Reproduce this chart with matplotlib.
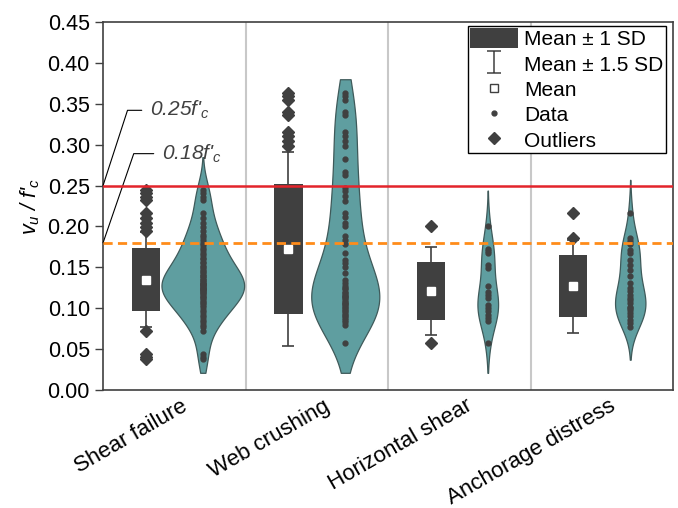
import numpy as np
import matplotlib
matplotlib.use("Agg")
import matplotlib.pyplot as plt
from matplotlib import mlab
from matplotlib.lines import Line2D
from matplotlib.patches import Patch
from matplotlib.path import Path
import matplotlib.transforms as mtransforms

plt.rcParams['font.family'] = ['Liberation Sans', 'DejaVu Sans']
plt.rcParams['mathtext.fontset'] = 'custom'
plt.rcParams['mathtext.rm'] = 'Liberation Sans'
plt.rcParams['mathtext.it'] = 'Liberation Sans:italic'

# 数据
categories = ["Shear failure", "Web crushing", "Horizontal shear", "Anchorage distress"]
means = [0.1348, 0.1725, 0.1207, 0.1266]
sds = [0.0388, 0.0793, 0.0357, 0.0379]

shear = [0.245, 0.241, 0.236, 0.232, 0.216, 0.210, 0.204, 0.199, 0.195,
         0.190, 0.187, 0.184, 0.180, 0.177, 0.174, 0.171, 0.168, 0.165, 0.162,
         0.160, 0.157, 0.155, 0.152, 0.150, 0.148, 0.146, 0.144, 0.142, 0.140,
         0.139, 0.137, 0.135, 0.134, 0.132, 0.131, 0.130, 0.129, 0.128, 0.127,
         0.126, 0.125, 0.124, 0.123, 0.122, 0.121, 0.120, 0.118, 0.117, 0.115,
         0.114, 0.112, 0.110, 0.108, 0.106, 0.104, 0.101, 0.098, 0.095, 0.092,
         0.089, 0.086, 0.083, 0.080, 0.077, 0.072, 0.044, 0.040, 0.038]
web = [0.363, 0.359, 0.355, 0.340, 0.336, 0.316, 0.310, 0.304, 0.298,
       0.283, 0.267, 0.263, 0.247, 0.243, 0.237, 0.231, 0.216, 0.212, 0.204,
       0.200, 0.188, 0.184, 0.178, 0.167, 0.159, 0.155, 0.151, 0.143, 0.135,
       0.131, 0.127, 0.125, 0.123, 0.120, 0.118, 0.116, 0.114, 0.112, 0.110,
       0.108, 0.106, 0.105, 0.104, 0.102, 0.100, 0.098, 0.096, 0.094, 0.092,
       0.090, 0.088, 0.086, 0.083, 0.080, 0.057, 0.115]
horizontal = [0.200, 0.172, 0.170, 0.168, 0.153, 0.149, 0.127, 0.120, 0.116,
              0.112, 0.104, 0.100, 0.096, 0.092, 0.088, 0.084, 0.058]
anchorage = [0.217, 0.186, 0.182, 0.178, 0.171, 0.167, 0.159, 0.153, 0.147,
             0.139, 0.131, 0.125, 0.121, 0.116, 0.113, 0.110, 0.106, 0.102,
             0.100, 0.098, 0.094, 0.090, 0.086, 0.082, 0.077]
groups = [shear, web, horizontal, anchorage]

limit_high = 0.25
limit_low = 0.18

dark = "#404040"
teal = "#5f9ea0"

fig = plt.figure(figsize=(6.78, 5.08), dpi=100)
ax = fig.add_axes([0.152, 0.2323, 0.8406, 0.7244])

n_max = max(len(g) for g in groups)
# 核密度曲线的公共范围（全部数据范围略放宽）
all_vals = np.concatenate([np.asarray(g) for g in groups])
grid_lo = all_vals.min() - 0.017
grid_hi = all_vals.max() + 0.017

for i, (data, m, s) in enumerate(zip(groups, means, sds)):
    data = np.asarray(data)
    bx = i - 0.2
    vx = i + 0.2
    # 箱体 mean ± 1 SD
    ax.bar(bx, 2 * s, bottom=m - s, width=0.2, color=dark, zorder=2)
    ax.vlines([bx, bx], [m + s, m - 1.5 * s], [m + 1.5 * s, m - s], color=dark, lw=1.2, zorder=2)
    ax.hlines([m + 1.5 * s, m - 1.5 * s], bx - 0.042, bx + 0.042, color=dark, lw=1.2, zorder=2)
    ax.plot(bx, m, 's', ms=6, mfc='white', mec='white', zorder=3)
    out = data[np.abs(data - m) > 1.5 * s]
    ax.plot(np.full(len(out), bx), out, 'D', ms=6, color=dark, zorder=3)
    # 小提琴图
    kde = mlab.GaussianKDE(data, 'scott')
    bw = float(np.sqrt(np.ravel(kde.covariance)[0]))
    ys = np.linspace(max(data.min() - 2 * bw, grid_lo), min(data.max() + 2 * bw, grid_hi), 200)
    dens = kde(ys)
    half = dens / dens.max() * 0.29 * len(data) / n_max
    ax.fill_betweenx(ys, vx - half, vx + half, facecolor=teal, edgecolor="#3f5a5a", lw=0.9, zorder=2)
    ax.plot(np.full(len(data), vx), data, 'o', ms=3.5, color=dark, zorder=3)

for xs in [0.5, 1.5, 2.5]:
    ax.axvline(xs, color="#c8c8c8", lw=1.5, zorder=1)

ax.axhline(limit_high, color="#e3242b", lw=1.8, zorder=4)
ax.axhline(limit_low, color="#ff8c1a", lw=2, ls=(0, (3.3, 1.9)), zorder=4)

ax.set_xlim(-0.5, 3.5)
ax.set_ylim(0, 0.45)
ax.set_yticks(np.arange(0, 0.451, 0.05))
ax.set_yticklabels([f"{v:.2f}" for v in np.arange(0, 0.451, 0.05)])
ax.set_xticks(range(len(categories)))
ax.tick_params(axis='x', length=0, pad=4, labelsize=16)
ax.tick_params(axis='y', length=6, width=1, color=dark, labelsize=15.5)
ax.set_xticklabels(categories, rotation=30, ha='right')
offset = mtransforms.ScaledTranslation(17 / 100, 0, fig.dpi_scale_trans)
for lab in ax.xaxis.get_majorticklabels():
    lab.set_transform(lab.get_transform() + offset)
for sp in ax.spines.values():
    sp.set_color(dark)
    sp.set_linewidth(1.2)

ax.set_ylabel("$v_u$ / f'$_c$", fontsize=15.5, fontstyle='italic', labelpad=4)

ax.annotate("0.25f'$_c$", xy=(-0.5, limit_high), xytext=(-0.17, 0.342),
            ha='left', va='center', fontsize=15, fontstyle='italic', color=dark,
            arrowprops=dict(arrowstyle='-', color='black', lw=0.8, shrinkA=4, shrinkB=0,
                            relpos=(0, 0.5), connectionstyle='angle,angleA=0,angleB=72,rad=0'))
ax.annotate("0.18f'$_c$", xy=(-0.5, limit_low), xytext=(-0.086, 0.289),
            ha='left', va='center', fontsize=15, fontstyle='italic', color=dark,
            arrowprops=dict(arrowstyle='-', color='black', lw=0.8, shrinkA=4, shrinkB=0,
                            relpos=(0, 0.5), connectionstyle='angle,angleA=0,angleB=71,rad=0'))

# 图例
ibar = Path([(-0.65, 1), (0.65, 1), (0, 1), (0, -1), (-0.65, -1), (0.65, -1)],
            [Path.MOVETO, Path.LINETO, Path.MOVETO, Path.LINETO, Path.MOVETO, Path.LINETO])
handles = [
    Patch(facecolor=dark, edgecolor='none', label="Mean ± 1 SD"),
    Line2D([], [], marker=ibar, ms=16, mec=dark, mfc='none', mew=1.1, ls='none', label="Mean ± 1.5 SD"),
    Line2D([], [], marker='s', ms=6, mfc='white', mec=dark, mew=1, ls='none', label="Mean"),
    Line2D([], [], marker='o', ms=3.5, color=dark, ls='none', label="Data"),
    Line2D([], [], marker='D', ms=6.5, color=dark, ls='none', label="Outliers"),
]
leg = ax.legend(handles=handles, loc='upper right', bbox_to_anchor=(1 - 7 / 570, 1 - 4 / 368),
                borderaxespad=0, fontsize=15, handlelength=2.3, handleheight=1.05,
                handletextpad=0.3, borderpad=0.12, labelspacing=0.22, fancybox=False,
                framealpha=1, edgecolor='black')
leg.get_frame().set_linewidth(1)

fig.savefig("out.png", dpi=100)
